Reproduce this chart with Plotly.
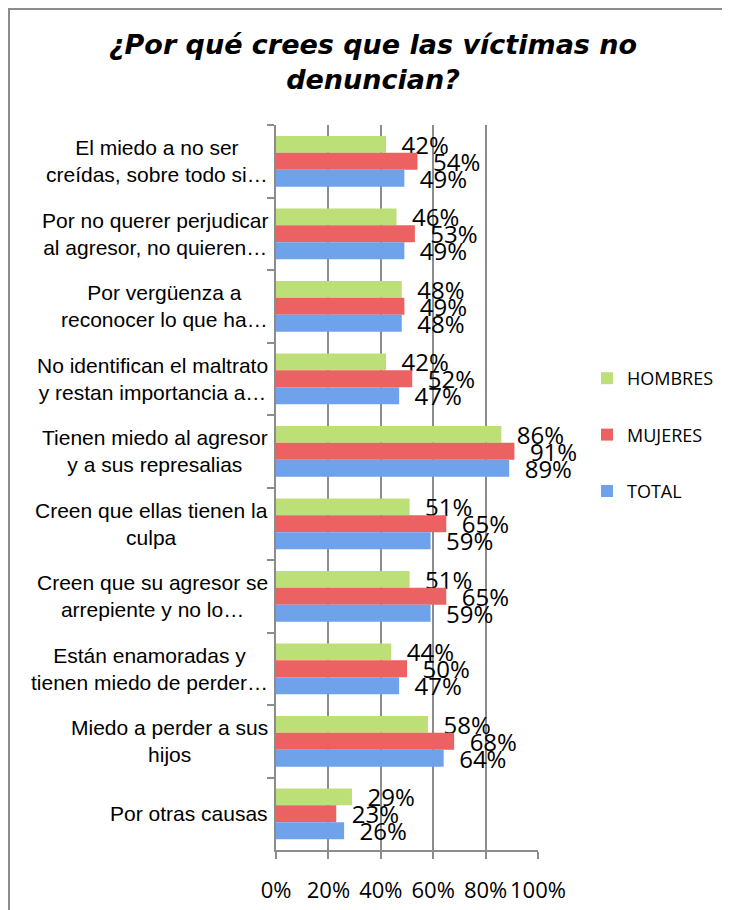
import plotly.graph_objects as go

# chart data
categorias = [
    "El miedo a no ser<br>creídas, sobre todo si…",
    "Por no querer perjudicar<br>al agresor, no quieren…",
    "Por vergüenza a<br>reconocer lo que ha…",
    "No identifican el maltrato<br>y restan importancia a…",
    "Tienen miedo al agresor<br>y a sus represalias",
    "Creen que ellas tienen la<br>culpa",
    "Creen que su agresor se<br>arrepiente y no lo…",
    "Están enamoradas y<br>tienen miedo de perder…",
    "Miedo a perder a sus<br>hijos",
    "Por otras causas",
]
hombres = [0.42, 0.46, 0.48, 0.42, 0.86, 0.51, 0.51, 0.44, 0.58, 0.29]
mujeres = [0.54, 0.53, 0.49, 0.52, 0.91, 0.65, 0.65, 0.50, 0.68, 0.23]
total = [0.49, 0.49, 0.48, 0.47, 0.89, 0.59, 0.59, 0.47, 0.64, 0.26]

series = [("HOMBRES", hombres, "#BDDF78"), ("MUJERES", mujeres, "#EC6262"), ("TOTAL", total, "#6EA2EA")]

# page has an 8px body margin, so the figure is a bit smaller than the window
OFF = 8
W, H = 730 - OFF, 910 - OFF
L, T = 268, 117
pw, ph = 262, 725
R, B = W - L - pw, H - T - ph
GRID = "#8C8C8C"
NUM_FONT = "Open Sans"

fig = go.Figure()
for name, vals, col in series:
    fig.add_trace(go.Bar(
        name=name, y=categorias, x=vals, orientation="h",
        marker=dict(color=col, line=dict(width=0)),
        text=[f"\u00a0\u00a0{v:.0%}" for v in vals], textposition="outside",
        textfont=dict(family=NUM_FONT, size=24, color="black"),
        constraintext="none", cliponaxis=False, legendgroup=name,
    ))

# category labels (centred lines, block right-aligned at the axis)
for c in categorias:
    fig.add_annotation(x=0, xref="paper", y=c, yref="y", xanchor="right", xshift=-6,
                       text=c, showarrow=False, align="center",
                       font=dict(family="Liberation Sans", size=21, color="black"))

# window pixel -> paper coords
px = lambda p: (p - OFF - L) / pw
py = lambda p: (OFF + T + ph - p) / ph

# outer frame (left and top edges only visible)
fig.add_shape(type="path", xref="paper", yref="paper",
              path=f"M {px(9)},{py(930)} L {px(9)},{py(9)} L {px(760)},{py(9)}",
              line=dict(color=GRID, width=2))

fig.update_layout(
    width=W, height=H, margin=dict(l=L, r=R, t=T, b=B, autoexpand=False),
    paper_bgcolor="white", plot_bgcolor="white",
    barmode="group", bargap=0.3, bargroupgap=0,
    title=dict(text="<b><i>¿Por qué crees que las víctimas no<br>denuncian?</i></b>",
               x=(373 - OFF) / W, xref="container", xanchor="center",
               y=1 - 46 / H, yref="container", yanchor="top",
               font=dict(family="DejaVu Sans", size=27, color="black")),
    legend=dict(x=px(587), y=py(360), xanchor="left", yanchor="top",
                font=dict(family=NUM_FONT, size=18, color="black"),
                tracegroupgap=30, bgcolor="rgba(0,0,0,0)"),
    showlegend=True,
)
fig.update_xaxes(range=[0, 1], dtick=0.2, tickformat=".0%", showgrid=True,
                 gridcolor=GRID, gridwidth=2, zeroline=False, automargin=False,
                 showline=True, linecolor=GRID, linewidth=2,
                 ticks="outside", ticklen=7, tickwidth=2, tickcolor=GRID,
                 ticklabelstandoff=13,
                 tickfont=dict(family=NUM_FONT, size=22, color="black"))
fig.update_yaxes(type="category", autorange="reversed", showgrid=False,
                 automargin=False,
                 showline=True, linecolor=GRID, linewidth=2,
                 ticks="outside", tickson="boundaries", ticklen=7, tickwidth=2,
                 tickcolor=GRID, showticklabels=False)

fig.write_html("out.html")
